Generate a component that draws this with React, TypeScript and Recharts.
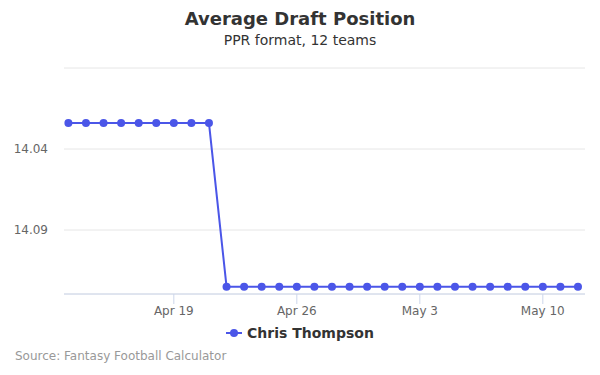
import React from "react";
import { LineChart, Line, XAxis, YAxis, CartesianGrid } from "recharts";

const dates = [
  "Apr 13", "Apr 14", "Apr 15", "Apr 16", "Apr 17", "Apr 18", "Apr 19", "Apr 20", "Apr 21", "Apr 22",
  "Apr 23", "Apr 24", "Apr 25", "Apr 26", "Apr 27", "Apr 28", "Apr 29", "Apr 30", "May 1", "May 2",
  "May 3", "May 4", "May 5", "May 6", "May 7", "May 8", "May 9", "May 10", "May 11", "May 12",
];
const adp = [
  14.024, 14.024, 14.024, 14.024, 14.024, 14.024, 14.024, 14.024, 14.024, 14.125,
  14.125, 14.125, 14.125, 14.125, 14.125, 14.125, 14.125, 14.125, 14.125, 14.125,
  14.125, 14.125, 14.125, 14.125, 14.125, 14.125, 14.125, 14.125, 14.125, 14.125,
];
const xTickLabels = ["Apr 19", "Apr 26", "May 3", "May 10"];
const yTicks = [13.99, 14.04, 14.09];
const yLabels = ["", "14.04", "14.09"];

const data = dates.map((d, i) => ({ idx: i, date: d, adp: adp[i] }));
const xTicks = xTickLabels.map((l) => dates.indexOf(l));

const FONT = "'DejaVu Sans', sans-serif";
const COLOR = "#4b56e8";

export default function App() {
  return (
    <div style={{ position: "fixed", left: 0, top: 0, width: 600, height: 375, background: "#fff", fontFamily: FONT }}>
      <div style={{ position: "absolute", top: 8, left: 0, width: 600, textAlign: "center", fontSize: 18, fontWeight: "bold", color: "#333" }}>
        Average Draft Position
      </div>
      <div style={{ position: "absolute", top: 32, left: 0, width: 600, textAlign: "center", fontSize: 14, color: "#333" }}>
        PPR format, 12 teams
      </div>
      <LineChart width={600} height={375} data={data} margin={{ top: 68, right: 15, left: 0, bottom: 51 }}>
        <CartesianGrid horizontal vertical={false} stroke="#e6e6e6" />
        <XAxis
          dataKey="idx"
          type="number"
          domain={[-0.25, 29.4]}
          ticks={xTicks}
          tickFormatter={(v: number) => dates[v]}
          axisLine={{ stroke: "#ccd6eb" }}
          tickLine={{ stroke: "#ccd6eb" }}
          tickSize={10}
          tickMargin={2}
          height={30}
          tick={{ fill: "#666", fontSize: 12, fontFamily: FONT }}
          allowDataOverflow
        />
        <YAxis
          type="number"
          reversed
          domain={[13.99, 14.1295]}
          ticks={yTicks}
          tickFormatter={(v: number) => yLabels[yTicks.indexOf(v)] ?? ""}
          axisLine={false}
          tickLine={false}
          tickMargin={10}
          width={64}
          tick={{ fill: "#666", fontSize: 12, fontFamily: FONT }}
          allowDataOverflow
        />
        <Line
          type="linear"
          dataKey="adp"
          stroke={COLOR}
          strokeWidth={2}
          dot={{ r: 4, fill: COLOR, stroke: COLOR, strokeWidth: 0 }}
          activeDot={false}
          isAnimationActive={false}
        />
      </LineChart>
      <div style={{ position: "absolute", top: 325, left: 0, width: 600, display: "flex", justifyContent: "center", alignItems: "center" }}>
        <svg width={16} height={12} style={{ marginRight: 5 }}>
          <line x1={0} y1={6} x2={16} y2={6} stroke={COLOR} strokeWidth={2} />
          <circle cx={8} cy={6} r={4} fill={COLOR} />
        </svg>
        <span style={{ fontSize: 14, fontWeight: "bold", color: "#333" }}>Chris Thompson</span>
      </div>
      <div style={{ position: "absolute", top: 349, left: 15, fontSize: 12, color: "#999" }}>
        Source: Fantasy Football Calculator
      </div>
    </div>
  );
}
